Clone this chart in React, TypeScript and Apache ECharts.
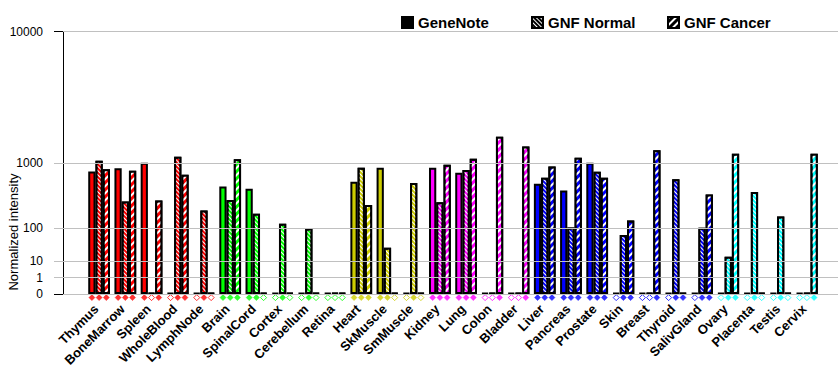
import React, { useEffect, useRef } from 'react';
import * as echarts from 'echarts';

const tissues = [
  'Thymus', 'BoneMarrow', 'Spleen', 'WholeBlood', 'LymphNode',
  'Brain', 'SpinalCord', 'Cortex', 'Cerebellum', 'Retina',
  'Heart', 'SkMuscle', 'SmMuscle',
  'Kidney', 'Lung', 'Colon', 'Bladder',
  'Liver', 'Pancreas', 'Prostate', 'Skin', 'Breast', 'Thyroid', 'SalivGland',
  'Ovary', 'Placenta', 'Testis', 'Cervix',
];

const RED = '#ff0000';
const GREEN = '#00ff00';
const YELLOW = '#cccc00';
const MAGENTA = '#ff00ff';
const BLUE = '#0000ff';
const CYAN = '#00ffff';

const tissueColors = [
  RED, RED, RED, RED, RED,
  GREEN, GREEN, GREEN, GREEN, GREEN,
  YELLOW, YELLOW, YELLOW,
  MAGENTA, MAGENTA, MAGENTA, MAGENTA,
  BLUE, BLUE, BLUE, BLUE, BLUE, BLUE, BLUE,
  CYAN, CYAN, CYAN, CYAN,
];

const geneNote = [880, 926, 1000, 0, 0, 673, 645, 0, 0, 0, 741, 931, 0, 931, 863, 0, 0, 713, 618, 1000, 0, 0, 0, 0, 0, 0, 0, 0];
const gnfNormal = [1130, 468, 0, 1410, 345, 490, 299, 163, 100, 0, 931, 47, 722, 459, 899, 0, 0, 794, 113, 877, 82, 0, 775, 108, 22, 599, 264, 0];
const gnfCancer = [910, 890, 482, 836, 0, 1247, 0, 0, 0, 0, 422, 0, 0, 973, 1274, 2784, 2118, 949, 1343, 794, 209, 1864, 0, 564, 1617, 0, 0, 1617];

// presence calls (filled diamond = 1, hollow = 0)
const geneNoteCall = [1, 1, 1, 0, 0, 1, 1, 0, 0, 0, 1, 1, 0, 1, 1, 0, 0, 1, 1, 1, 0, 0, 0, 0, 0, 0, 0, 0];
const gnfNormalCall = [1, 1, 0, 1, 1, 1, 1, 1, 1, 0, 1, 1, 1, 1, 1, 0, 0, 1, 1, 1, 1, 0, 1, 1, 1, 1, 1, 0];
const gnfCancerCall = [1, 1, 1, 1, 0, 1, 0, 0, 0, 0, 1, 0, 0, 1, 1, 1, 1, 1, 1, 1, 1, 1, 1, 1, 1, 0, 0, 1];

const seriesNames = ['GeneNote', 'GNF Normal', 'GNF Cancer'];

// axis breakpoints of the piecewise intensity scale and their positions
const tickValues = [0, 1, 10, 100, 1000, 10000];
const tickUnits = [0, 1, 2, 4, 8, 16];

function toUnit(v: number): number {
  if (v <= 0) return 0;
  for (let i = 1; i < tickValues.length; i++) {
    if (v <= tickValues[i]) {
      const a = tickValues[i - 1], b = tickValues[i];
      const ua = tickUnits[i - 1], ub = tickUnits[i];
      return ua + ((v - a) / (b - a)) * (ub - ua);
    }
  }
  return tickUnits[tickUnits.length - 1];
}

function unitLabel(u: number): string {
  const i = tickUnits.indexOf(Math.round(u * 1000) / 1000);
  return i >= 0 ? String(tickValues[i]) : '';
}

const FONT = "'Liberation Sans', Arial, Helvetica, sans-serif";

const normalDecal = {
  symbol: 'rect', symbolSize: 1, color: '#ffffff',
  dashArrayX: [1, 0], dashArrayY: [1, 1.2], rotation: Math.PI / 4,
};
const cancerDecal = {
  symbol: 'rect', symbolSize: 1, color: '#ffffff',
  dashArrayX: [1, 0], dashArrayY: [2, 2.2], rotation: -Math.PI / 4,
};

export default function App() {
  const ref = useRef<HTMLDivElement>(null);

  useEffect(() => {
    if (!ref.current) return;
    const chart = echarts.init(ref.current, undefined, { renderer: 'svg' });

    const valueSets = [geneNote, gnfNormal, gnfCancer];
    const callSets = [geneNoteCall, gnfNormalCall, gnfCancerCall];
    const decals: any[] = [null, normalDecal, cancerDecal];
    const offsets = [-7.2, 0, 7.2];

    const barSeries = valueSets.map((vals, k) => ({
      name: seriesNames[k],
      type: 'bar',
      xAxisIndex: 1,
      yAxisIndex: 2,
      z: 2,
      barGap: '0%',
      barCategoryGap: '17%',
      barMinHeight: 1,
      itemStyle: {
        color: '#000',
        borderColor: '#000',
        borderWidth: 2,
        ...(decals[k] ? { decal: decals[k] } : {}),
      },
      data: vals.map((v, i) => ({
        value: toUnit(v),
        itemStyle: {
          color: tissueColors[i],
          ...(decals[k] ? { decal: { ...decals[k] } } : {}),
        },
      })),
    }));

    const callSeries = callSets.map((calls, k) => ({
      name: 'call' + k,
      type: 'scatter',
      xAxisIndex: 1,
      yAxisIndex: 2,
      z: 3,
      clip: false,
      symbol: 'diamond',
      symbolSize: 6,
      symbolOffset: [offsets[k], 0],
      data: calls.map((c, i) => ({
        value: [tissues[i], -0.22],
        itemStyle: c
          ? { color: tissueColors[i], borderColor: tissueColors[i], borderWidth: 0.5 }
          : { color: '#ffffff', borderColor: tissueColors[i], borderWidth: 1 },
      })),
    }));

    chart.setOption({
      animation: false,
      textStyle: { fontFamily: FONT },
      legend: seriesNames.map((n, k) => ({
        data: [n],
        left: [401, 531, 667][k],
        top: 15,
        padding: 0,
        itemWidth: 11,
        itemHeight: 11,
        icon: 'rect',
        selectedMode: false,
        textStyle: { fontSize: 15, fontWeight: 'bold', color: '#000', fontFamily: FONT },
      })),
      grid: [
        { left: 63, right: 2, top: 31.5, bottom: 91 },
        { left: 86, right: 20, top: 31.5, bottom: 91 },
      ],
      xAxis: [
        { gridIndex: 0, type: 'value', min: 0, max: 1, show: false },
        {
          gridIndex: 1,
          type: 'category',
          data: tissues,
          boundaryGap: true,
          axisLine: { show: false },
          axisTick: { show: false },
          axisLabel: {
            interval: 0,
            rotate: 45,
            margin: 10,
            padding: [0, 4, 0, 0],
            fontSize: 13,
            fontWeight: 'bold',
            color: '#000',
            fontFamily: FONT,
          },
        },
      ],
      yAxis: [
        {
          gridIndex: 0,
          type: 'value',
          min: 0,
          max: 16,
          interval: 1,
          axisLine: { show: true, lineStyle: { color: '#000', width: 1 } },
          axisTick: { show: true, length: 9, customValues: [0, 16], lineStyle: { color: '#000' } },
          splitLine: { show: false },
          axisLabel: {
            customValues: tickUnits,
            formatter: (v: number) => unitLabel(v),
            margin: 20,
            fontSize: 12,
            color: '#000',
            fontFamily: FONT,
          },
        },
        {
          gridIndex: 0,
          type: 'value',
          min: 0,
          max: 16,
          interval: 1,
          position: 'left',
          axisLine: { show: false },
          axisTick: { show: true, length: 9, customValues: [1, 2, 4, 8], lineStyle: { color: '#c0c0c0' } },
          splitLine: { show: false },
          axisLabel: { show: false },
        },
        {
          gridIndex: 1,
          type: 'value',
          min: 0,
          max: 16,
          show: false,
          splitLine: { show: false },
        },
      ],
      graphic: [
        {
          type: 'text',
          x: 13,
          y: 232,
          rotation: Math.PI / 2,
          style: {
            text: 'Normalized intensity',
            align: 'center',
            verticalAlign: 'middle',
            fontSize: 13,
            fontFamily: FONT,
            fill: '#000',
          },
        },
      ],
      series: [
        {
          name: 'grid',
          type: 'line',
          xAxisIndex: 0,
          yAxisIndex: 0,
          z: 1,
          data: [],
          markLine: {
            silent: true,
            symbol: ['none', 'none'],
            label: { show: false },
            lineStyle: { color: '#c0c0c0', type: 'solid', width: 1 },
            data: tickUnits.map((u) => ({ yAxis: u })),
          },
        },
        ...barSeries,
        ...callSeries,
      ],
    });

    return () => chart.dispose();
  }, []);

  return (
    <div
      ref={ref}
      style={{ position: 'absolute', left: 0, top: 0, width: 840, height: 385, background: '#fff' }}
    />
  );
}
